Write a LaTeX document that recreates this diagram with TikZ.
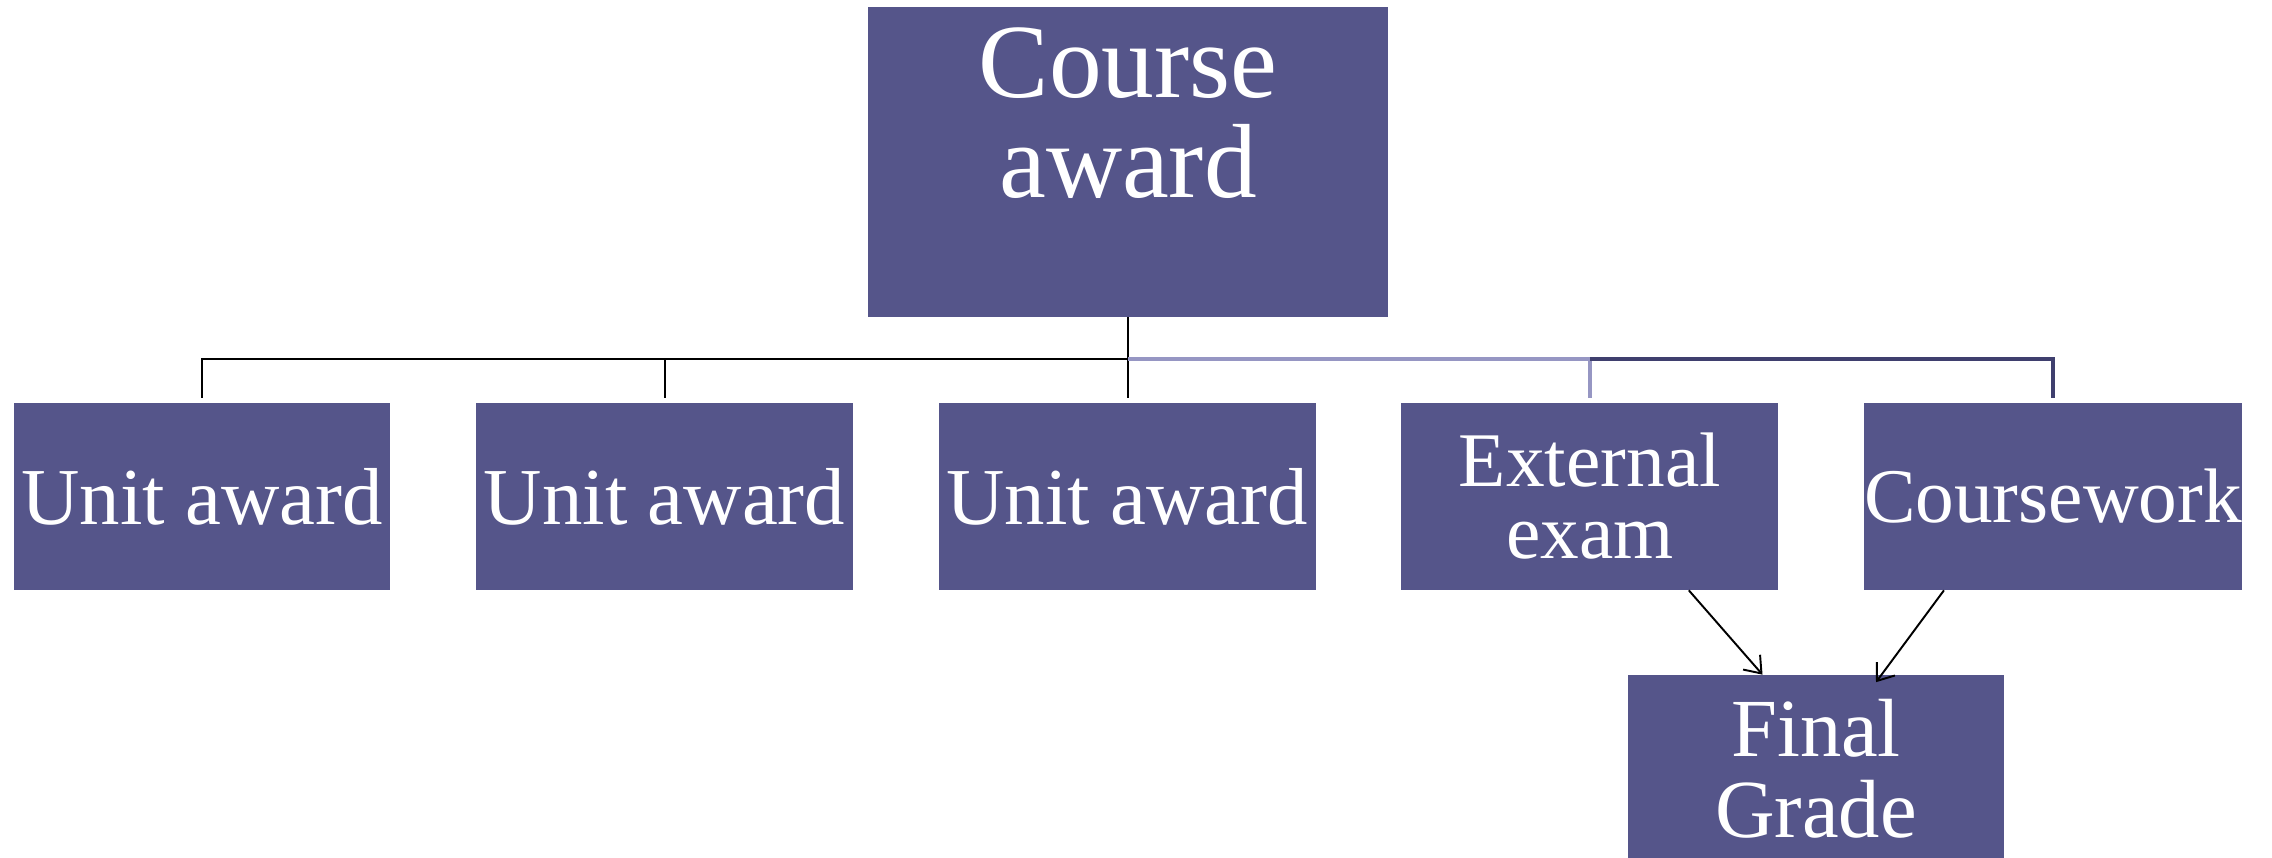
\documentclass[tikz,border=0pt]{standalone}
\usepackage{fontspec}
\setmainfont{Liberation Serif}
\usetikzlibrary{
    arrows.meta,
    positioning
}

\definecolor{boxblue}{RGB}{85,85,138}
\definecolor{buslight}{RGB}{150,150,195}
\definecolor{busdark}{RGB}{63,63,110}

\begin{document}
\begin{tikzpicture}
    [x=0.02cm,y=-0.02cm,
    % Styles
    award box/.style={rectangle,fill=boxblue,text=white,inner sep=0pt,
        minimum width=7.54cm,minimum height=3.74cm,align=center,
        font=\fontsize{44}{41}\selectfont},
    tree line/.style={line width=1.1pt},
    grade arrow/.style={line width=1.1pt,-{Straight Barb[length=3mm,width=4.5mm]}}]

    \useasboundingbox (0,0) rectangle (2272,858);

    % The boxes
    \node[award box,minimum width=10.4cm,minimum height=6.2cm] (course) at (1128,162) {};
    \node[anchor=north,text=white,align=center,inner sep=0pt,
        font=\fontsize{60}{57}\selectfont] (coursetext) at (1128,27) {Course\\award};

    \node[award box,font=\fontsize{46}{41}\selectfont] (unit1) at (202,496.5) {Unit award};
    \node[award box,font=\fontsize{46}{41}\selectfont,right=1.7cm of unit1] (unit2) {Unit award};
    \node[award box,font=\fontsize{46}{41}\selectfont,right=1.7cm of unit2] (unit3) {Unit award};
    \node[award box,right=1.7cm of unit3] (exam) {External\\exam};
    \node[award box,right=1.7cm of exam] (cw) {Coursework};
    \node[award box,font=\fontsize{47}{46}\selectfont] (final) at (1816,768.5) {Final\\Grade};

    % The tree
    \coordinate (hub) at (course.south |- 0,359);
    \draw[tree line] (unit1.north) ++(0,-5) |- (hub);
    \draw[tree line] (unit2.north) ++(0,-5) -- (unit2.north |- hub);
    \draw[line width=1.6pt] (course.south) -- ([yshift=0.1cm]course.south |- unit3.north);
    \draw[tree line,buslight,line width=2pt] (hub) -| ([yshift=0.1cm]exam.north);
    \draw[tree line,busdark,line width=2pt] (exam.north |- hub) -| ([yshift=0.1cm]cw.north);

    % to the final grade
    \draw[grade arrow] ([xshift=1.98cm]exam.south) -- ([xshift=-1.07cm]final.north);
    \draw[grade arrow] ([xshift=-2.18cm]cw.south) -- ([xshift=1.2cm,yshift=-0.15cm]final.north);
\end{tikzpicture}
\end{document}
